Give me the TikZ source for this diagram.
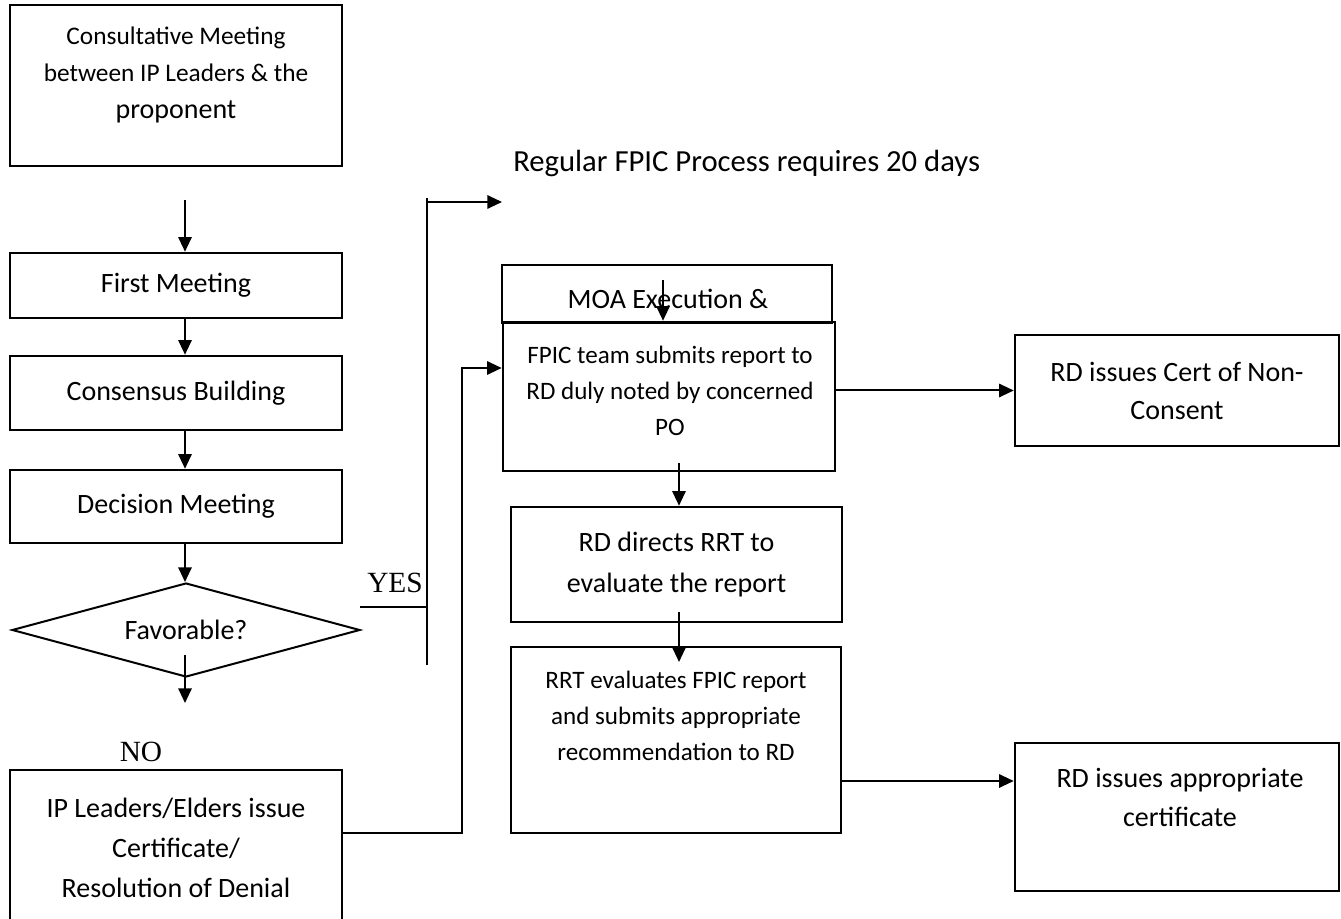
\documentclass[tikz,border=0pt]{standalone}
\usepackage{fontspec}
\setmainfont{Carlito}
\newfontfamily\timesfont{Liberation Serif}
\usetikzlibrary{shapes.geometric,arrows.meta,calc}
\begin{document}
\begin{tikzpicture}[x=0.75pt,y=-0.75pt,
  box/.style={draw, line width=1.9pt, rectangle, align=center, inner sep=0pt},
  txt/.style={align=center, inner sep=0pt},
  conn/.style={line width=1.5pt},
  arr/.style={conn, -{Triangle[length=11pt,width=10pt]}},
  big/.style={font=\fontsize{21}{30}\selectfont},
  small/.style={font=\fontsize{18.8}{27}\selectfont},
  lbl/.style={font=\timesfont\fontsize{22}{26}\selectfont, inner sep=0pt}]
\useasboundingbox (0,0) rectangle (1341,919);

% left column
\node[box, minimum width=249pt, minimum height=120.75pt] (cm) at (176,85.5) {};
\node[txt, font=\fontsize{19}{27.75}\selectfont] (cmtext) at (176,75)
  {Consultative Meeting\\between IP Leaders \& the\\{\fontsize{21}{27.75}\selectfont proponent}};
\node[box, big, minimum width=249pt, minimum height=48.75pt] (first) at (176,285.5) {First Meeting};
\node[box, big, minimum width=249pt, minimum height=55.5pt] (cons) at (176,393) {Consensus Building};
\node[box, big, minimum width=249pt, minimum height=54.75pt] (dec) at (176,506.5) {Decision Meeting};
\node[draw, line width=1.5pt, diamond, aspect=3.7, inner sep=0pt,
      minimum width=261pt, minimum height=70.5pt, font=\fontsize{21}{24}\selectfont] (dia) at (186,630) {Favorable?};
\node[box, minimum width=249pt, minimum height=116.25pt,
      font=\fontsize{21}{30}\selectfont] (ip) at (176,847.5)
  {IP Leaders/Elders issue\\Certificate/\\Resolution of Denial};

% right part
\node[anchor=west, inner sep=0pt, font=\fontsize{23}{26}\selectfont] (reg) at (513,163)
  {Regular FPIC Process requires 20 days};
\node[box, minimum width=247.5pt, minimum height=43.5pt] (moa) at (667,294) {};
\node[txt, big] (moatext) at (668,299) {MOA Execution \&};
\node[box, minimum width=249pt, minimum height=111.75pt] (fpic) at (669,396.5) {};
\node[txt, small] (fpictext) at (670,391)
  {FPIC team submits report to\\RD duly noted by concerned\\PO};
\node[box, minimum width=248.25pt, minimum height=86.25pt,
      font=\fontsize{21}{30.75}\selectfont] (rd) at (676.5,564.5)
  {RD directs RRT to\\evaluate the report};
\node[box, minimum width=247.5pt, minimum height=139.5pt] (rrt) at (676,740) {};
\node[txt, small] (rrttext) at (676,716)
  {RRT evaluates FPIC report\\and submits appropriate\\recommendation to RD};
\node[box, minimum width=243pt, minimum height=83.25pt,
      font=\fontsize{21}{28.5}\selectfont] (noncons) at (1177,390.5)
  {RD issues Cert of Non-\\Consent};
\node[box, minimum width=243pt, minimum height=111pt] (appr) at (1177,817) {};
\node[txt, font=\fontsize{21}{29}\selectfont] (apprtext) at (1180,797.5)
  {RD issues appropriate\\certificate};

% labels
\node[lbl] (yes) at (395,583) {YES};
\node[lbl] (no) at (141,752) {NO};

% connectors, left column
\coordinate (a0) at (185,200);
\draw[arr] (a0) -- (a0 |- first.north);
\draw[arr] (first.south -| a0) -- (a0 |- cons.north);
\draw[arr] (cons.south -| a0) -- (a0 |- dec.north);
\draw[arr] (dec.south -| a0) -- (a0 |- dia.north);
\coordinate (nostart) at (185,655);
\coordinate (noend) at (185,703);
\draw[arr] (nostart) -- (noend);

% YES branch
\coordinate (yesL) at (360,607);
\coordinate (yesB) at (427,665);
\coordinate (yesT) at (427,198);
\coordinate (regstart) at (427,202);
\coordinate (regend) at (502,202);
\draw[conn] (yesL) -- (yesL -| yesB);
\draw[conn] (yesB) -- (yesT);
\draw[arr] (regstart) -- (regend);

% denial goes on to the FPIC report
\coordinate (ipout) at ($(ip.east)+(0,-14.5)$);
\coordinate (bend) at (462,368);
\coordinate (fin) at (0,368);
\draw[arr] (ipout) -| (bend) -- (fpic.west |- fin);

% right column
\coordinate (moain) at (663,280);
\draw[arr] (moain) -- (moain |- fpic.north);
\draw[arr] (fpic.east |- noncons.west) -- (noncons.west);
\coordinate (f2) at (679,463);
\draw[arr] (f2) -- (f2 |- rd.north);
\coordinate (r2) at (679,612);
\coordinate (r2end) at (679,662);
\draw[arr] (r2) -- (r2end);
\coordinate (y781) at (0,781);
\draw[arr] (rrt.east |- y781) -- (appr.west |- y781);
\end{tikzpicture}
\end{document}
